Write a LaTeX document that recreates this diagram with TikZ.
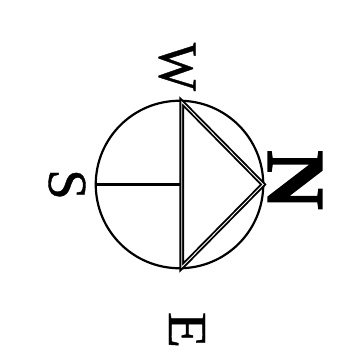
\documentclass[tikz,border=0pt]{standalone}
\usepackage{graphicx}
\usepackage{fontspec}
\setmainfont{Liberation Serif}
\newfontfamily\lettface[FakeBold=0.7]{Liberation Serif}
\newfontfamily\northface[FakeBold=1.8]{Liberation Serif Bold}
\tikzset{
  letter/.style={inner sep=0pt,rotate=-90,anchor=center,font=\fontsize{55}{55}\selectfont\lettface},
  boldletter/.style={inner sep=0pt,rotate=-90,anchor=center,font=\fontsize{82}{82}\selectfont\northface},
  thin line/.style={draw=black,line width=2.2pt}
}
\begin{document}
\begin{tikzpicture}[x=1pt,y=-1pt]
\useasboundingbox (0,0) rectangle (352,360);
\fill[white] (0,0) rectangle (352,360);
\node[draw=black,line width=2.2pt,circle,minimum size=167.5pt,inner sep=0pt] (dial) at (179.5,184.5) {};
\coordinate (top) at (181.8,102);
\coordinate (bot) at (181.8,267);
\coordinate (tip) at (263.2,184.5);
\coordinate (mid) at (181,184.5);
\draw[double=white,double distance=0.9pt,line width=1.9pt,line join=miter] (top) -- (tip) -- (bot) -- cycle;
\draw[thin line] (dial.west) -- (mid);
\node[boldletter] (north) at (295,180) {N};
\node[letter] (west) at (177,67) {\scalebox{0.93}[1]{W}};
\node[letter] (south) at (67,184.5) {S};
\node[letter] (east) at (187,330) {\scalebox{1.08}[1]{E}};
\end{tikzpicture}
\end{document}
